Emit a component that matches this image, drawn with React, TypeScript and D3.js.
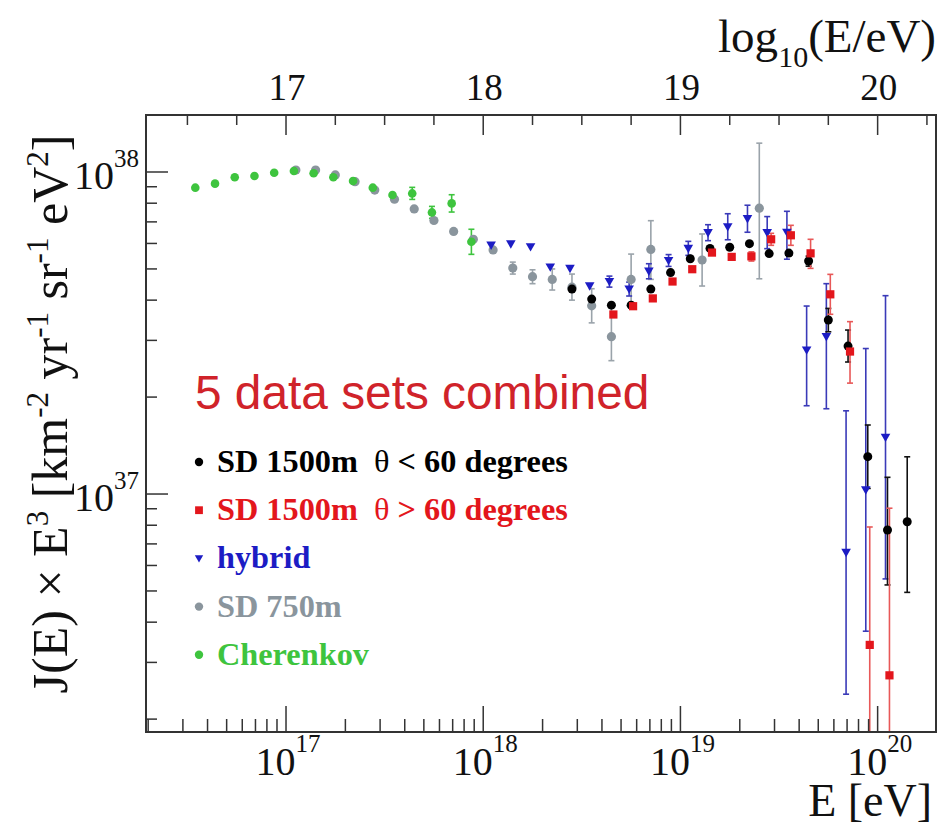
import React from 'react';
import * as d3 from 'd3';

const W = 942;
const H = 826;
const FRAME = { left: 146, right: 936, top: 115, bottom: 732 };

// axis domains (E in eV, J*E^3 in km^-2 yr^-1 sr^-1 eV^2)
const LOG_E_MIN = 16.29;
const LOG_E_MAX = 20.296;
const LOG_J_MIN = 36.261;
const LOG_J_MAX = 38.177;
const J_UNIT = 1e37;

const TOP_TICK_LABELS = [17, 18, 19, 20];
const BOTTOM_TICK_EXPS = [17, 18, 19, 20];
const LEFT_TICK_EXPS = [37, 38];

// SD 1500m, theta < 60 degrees
const sdVertLogE = [18.45, 18.55, 18.65, 18.75, 18.85, 18.95, 19.05, 19.15, 19.25, 19.35, 19.45, 19.55, 19.65, 19.75, 19.85, 19.95, 20.05, 20.15];
const sdVertJ = [4.33, 4.03, 3.86, 3.86, 4.33, 4.87, 5.38, 5.79, 5.84, 5.99, 5.58, 5.6, 5.29, 3.47, 2.88, 1.306, 0.773, 0.82];
const sdVertErrLo = [0.06, 0.06, 0.06, 0.06, 0.07, 0.08, 0.09, 0.1, 0.11, 0.13, 0.15, 0.17, 0.19, 0.28, 0.31, 0.265, 0.251, 0.325];
const sdVertErrHi = [0.06, 0.06, 0.06, 0.06, 0.07, 0.08, 0.09, 0.1, 0.11, 0.13, 0.15, 0.17, 0.19, 0.3, 0.35, 0.332, 0.354, 0.485];

// SD 1500m, theta > 60 degrees
const sdInclLogE = [18.66, 18.76, 18.86, 18.96, 19.06, 19.16, 19.26, 19.36, 19.46, 19.56, 19.66, 19.76, 19.86, 19.96, 20.06];
const sdInclJ = [3.61, 3.83, 4.05, 4.57, 4.99, 5.62, 5.45, 5.47, 6.18, 6.36, 5.59, 4.17, 2.77, 0.34, 0.2735];
const sdInclErrLo = [0.08, 0.09, 0.1, 0.11, 0.13, 0.15, 0.17, 0.18, 0.26, 0.44, 0.57, 0.555, 0.56, 0.34, 0.2735];
const sdInclErrHi = [0.08, 0.09, 0.1, 0.11, 0.13, 0.15, 0.17, 0.18, 0.27, 0.47, 0.59, 0.64, 0.66, 0.45, 0.63];

// hybrid
const hybridLogE = [18.04, 18.14, 18.24, 18.34, 18.44, 18.54, 18.64, 18.74, 18.84, 18.94, 19.04, 19.14, 19.24, 19.34, 19.44, 19.54, 19.64, 19.74, 19.84, 19.94, 20.04];
const hybridJ = [5.93, 5.98, 5.86, 5.07, 5.02, 4.43, 4.57, 4.33, 4.92, 5.31, 5.79, 6.48, 6.76, 7.16, 6.48, 6.5, 2.8, 3.08, 0.659, 1.03, 1.5];
const hybridErrLo = [0.15, 0.15, 0.15, 0.18, 0.18, 0.16, 0.18, 0.21, 0.26, 0.22, 0.28, 0.36, 0.6, 0.66, 0.7, 1.14, 0.92, 1.24, 0.42, 0.655, 0.955];
const hybridErrHi = [0.15, 0.15, 0.15, 0.19, 0.19, 0.17, 0.18, 0.22, 0.27, 0.23, 0.3, 0.38, 0.66, 0.725, 0.79, 1.05, 1.035, 1.42, 1.154, 1.8, 2.63];

// SD 750m
const sd750LogE = [17.05, 17.15, 17.25, 17.35, 17.45, 17.55, 17.65, 17.75, 17.85, 17.95, 18.05, 18.15, 18.25, 18.35, 18.45, 18.55, 18.65, 18.75, 18.85, 19.11, 19.4];
const sd750J = [10.14, 10.14, 9.79, 9.33, 8.79, 8.23, 7.68, 7.07, 6.54, 6.18, 5.73, 5.03, 4.73, 4.64, 4.39, 3.84, 3.08, 4.64, 5.75, 5.33, 7.72];
const sd750ErrLo = [0.08, 0.08, 0.08, 0.08, 0.08, 0.08, 0.08, 0.08, 0.08, 0.08, 0.12, 0.21, 0.23, 0.34, 0.39, 0.44, 0.485, 0.81, 1.11, 0.905, 3.06];
const sd750ErrHi = [0.08, 0.08, 0.08, 0.08, 0.08, 0.08, 0.08, 0.08, 0.08, 0.08, 0.12, 0.22, 0.24, 0.36, 0.43, 0.5, 0.74, 0.92, 1.31, 1.09, 4.57];

// Cherenkov
const cherLogE = [16.54, 16.64, 16.74, 16.84, 16.94, 17.04, 17.14, 17.24, 17.34, 17.44, 17.54, 17.64, 17.74, 17.84, 17.94];
const cherJ = [8.94, 9.2, 9.63, 9.72, 9.95, 10.07, 9.91, 9.63, 9.38, 8.94, 8.48, 8.58, 7.49, 7.99, 6.07];
const cherErrLo = [0.08, 0.08, 0.08, 0.08, 0.08, 0.08, 0.08, 0.1, 0.12, 0.15, 0.18, 0.36, 0.31, 0.48, 0.52];
const cherErrHi = [0.08, 0.08, 0.08, 0.08, 0.08, 0.08, 0.08, 0.1, 0.12, 0.15, 0.18, 0.38, 0.33, 0.51, 0.57];

type Marker = 'circle' | 'square' | 'tri';

const SERIES = [
  { name: 'SD 750m', logE: sd750LogE, J: sd750J, lo: sd750ErrLo, hi: sd750ErrHi, color: '#8a959d', bar: '#9aa3aa', marker: 'circle' as Marker, r: 4.6 },
  { name: 'Cherenkov', logE: cherLogE, J: cherJ, lo: cherErrLo, hi: cherErrHi, color: '#3ec43e', bar: '#3ec43e', marker: 'circle' as Marker, r: 4.3 },
  { name: 'hybrid', logE: hybridLogE, J: hybridJ, lo: hybridErrLo, hi: hybridErrHi, color: '#1c1cc4', bar: '#3a3ab8', marker: 'tri' as Marker, r: 4.8 },
  { name: 'SD 1500m  θ < 60 degrees', logE: sdVertLogE, J: sdVertJ, lo: sdVertErrLo, hi: sdVertErrHi, color: '#000000', bar: '#111111', marker: 'circle' as Marker, r: 4.5 },
  { name: 'SD 1500m  θ > 60 degrees', logE: sdInclLogE, J: sdInclJ, lo: sdInclErrLo, hi: sdInclErrHi, color: '#e3161c', bar: '#e85858', marker: 'square' as Marker, r: 4.1 },
];

const LEGEND = [
  { pre: 'SD 1500m  ', sym: 'θ', post: ' < 60 degrees', color: '#000000', marker: 'circle' as Marker },
  { pre: 'SD 1500m  ', sym: 'θ', post: ' > 60 degrees', color: '#e3161c', marker: 'square' as Marker },
  { pre: 'hybrid', sym: '', post: '', color: '#1c1cc4', marker: 'tri' as Marker },
  { pre: 'SD 750m', sym: '', post: '', color: '#8a959d', marker: 'circle' as Marker },
  { pre: 'Cherenkov', sym: '', post: '', color: '#3ec43e', marker: 'circle' as Marker },
];

const SERIF = "'Liberation Serif', 'Times New Roman', serif";
const SANS = "'Liberation Sans', Arial, sans-serif";

function MarkerShape({ type, cx, cy, r, color }: { type: Marker; cx: number; cy: number; r: number; color: string }) {
  if (type === 'square') return <rect x={cx - r} y={cy - r} width={2 * r} height={2 * r} fill={color} />;
  if (type === 'tri') {
    const p = `${cx - r},${cy - r * 0.75} ${cx + r},${cy - r * 0.75} ${cx},${cy + r}`;
    return <polygon points={p} fill={color} />;
  }
  return <circle cx={cx} cy={cy} r={r} fill={color} />;
}

export default function App() {
  const x = d3.scaleLog().domain([10 ** LOG_E_MIN, 10 ** LOG_E_MAX]).range([FRAME.left, FRAME.right]);
  const y = d3.scaleLog().domain([10 ** LOG_J_MIN, 10 ** LOG_J_MAX]).range([FRAME.bottom, FRAME.top]).clamp(true);

  const bottomTicks: { v: number; major: boolean }[] = [];
  for (let k = 16; k <= 20; k++) for (let m = 1; m <= 9; m++) {
    const v = m * 10 ** k;
    const px = x(v);
    if (v >= 10 ** LOG_E_MIN && v <= 10 ** LOG_E_MAX && px > FRAME.left + 2 && px < FRAME.right - 1) bottomTicks.push({ v, major: m === 1 });
  }
  const leftTicks: { v: number; major: boolean }[] = [];
  for (let k = 36; k <= 38; k++) for (let m = 1; m <= 9; m++) {
    const v = m * 10 ** k;
    const py = y(v);
    if (v >= 10 ** LOG_J_MIN && v <= 10 ** LOG_J_MAX && py < FRAME.bottom - 2) leftTicks.push({ v, major: m === 1 });
  }
  const topTicks: { t: number; major: boolean }[] = [];
  for (let t = 16.25; t <= 20.3; t += 0.25) {
    if (t > LOG_E_MIN && t < LOG_E_MAX) topTicks.push({ t, major: Math.abs(t - Math.round(t)) < 1e-6 });
  }

  const cap = 3;

  return (
    <svg width={W} height={H} style={{ position: 'absolute', left: 0, top: 0, background: '#fff' }}>
      <rect x={0} y={0} width={W} height={H} fill="#fff" />
      <g>
        {SERIES.map((s) => (
          <g key={s.name + 'err'} stroke={s.bar} strokeWidth={1.6} fill="none">
            {s.logE.map((le, i) => {
              const cx = x(10 ** le);
              const y1 = y((s.J[i] + s.hi[i]) * J_UNIT);
              const y0 = y((s.J[i] - s.lo[i]) * J_UNIT);
              const show = y0 - y1 > 2 * s.r + 1;
              if (!show) return null;
              return (
                <g key={i}>
                  <line x1={cx} x2={cx} y1={y1} y2={y0} />
                  <line x1={cx - cap} x2={cx + cap} y1={y1} y2={y1} />
                  {y0 < FRAME.bottom - 1 && <line x1={cx - cap} x2={cx + cap} y1={y0} y2={y0} />}
                </g>
              );
            })}
          </g>
        ))}
        {SERIES.map((s) => (
          <g key={s.name + 'pts'}>
            {s.logE.map((le, i) => (
              <MarkerShape key={i} type={s.marker} cx={x(10 ** le)} cy={y(s.J[i] * J_UNIT)} r={s.r} color={s.color} />
            ))}
          </g>
        ))}
      </g>

      <rect x={FRAME.left} y={FRAME.top} width={FRAME.right - FRAME.left} height={FRAME.bottom - FRAME.top} fill="none" stroke="#333" strokeWidth={2} />

      <g stroke="#333" strokeWidth={1.5}>
        {bottomTicks.map((t, i) => (
          <line key={i} x1={x(t.v)} x2={x(t.v)} y1={FRAME.bottom} y2={FRAME.bottom - (t.major ? 26 : 13)} />
        ))}
        {leftTicks.map((t, i) => (
          <line key={'l' + i} x1={FRAME.left} x2={FRAME.left + (t.major ? 22 : 11)} y1={y(t.v)} y2={y(t.v)} />
        ))}
        {topTicks.map((t, i) => (
          <line key={'t' + i} x1={x(10 ** t.t)} x2={x(10 ** t.t)} y1={FRAME.top} y2={FRAME.top + (t.major ? 20 : 10)} />
        ))}
      </g>

      <g fontFamily={SERIF} fill="#111">
        {BOTTOM_TICK_EXPS.map((e) => (
          <text key={e} x={x(10 ** e) + 2} y={775} fontSize={40} textAnchor="middle">
            10<tspan dy={-23} fontSize={25}>{e}</tspan>
          </text>
        ))}
        {LEFT_TICK_EXPS.map((e) => (
          <text key={e} x={139} y={y(10 ** e) + 17} fontSize={40} textAnchor="end">
            10<tspan dy={-22} fontSize={25}>{e}</tspan>
          </text>
        ))}
        {TOP_TICK_LABELS.map((e) => (
          <text key={e} x={x(10 ** e) + 1} y={100} fontSize={37} textAnchor="middle">{e}</text>
        ))}
        <text x={936} y={52} fontSize={47} textAnchor="end">
          log<tspan dy={15} fontSize={30}>10</tspan><tspan dy={-15}>(E/eV)</tspan>
        </text>
        <text x={932} y={816} fontSize={46} textAnchor="end">E [eV]</text>
        <text transform="translate(67,414) rotate(-90)" fontSize={50} textAnchor="middle">
          J(E) × E<tspan dy={-19} fontSize={31}>3</tspan>
          <tspan dy={19}> [km</tspan><tspan dy={-19} fontSize={31}>-2</tspan>
          <tspan dy={19}> yr</tspan><tspan dy={-19} fontSize={31}>-1</tspan>
          <tspan dy={19}> sr</tspan><tspan dy={-19} fontSize={31}>-1</tspan>
          <tspan dy={19}> eV</tspan><tspan dy={-19} fontSize={31}>2</tspan>
          <tspan dy={19}>]</tspan>
        </text>
      </g>

      <text x={195} y={409} fontFamily={SANS} fontSize={47.8} fill="#d0232a">5 data sets combined</text>

      <g fontFamily={SERIF} fontWeight="bold" fontSize={32.3}>
        {LEGEND.map((l, i) => {
          const cy = 462 + i * 48.2;
          return (
            <g key={l.pre + l.post}>
              <MarkerShape type={l.marker} cx={199} cy={cy} r={l.marker === 'square' ? 3.9 : 4.2} color={l.color} />
              <text x={217} y={cy + 10} fill={l.color} style={{ whiteSpace: 'pre' }}>
                {l.pre}
                {l.sym && <tspan fontWeight="normal">{l.sym}</tspan>}
                {l.post}
              </text>
            </g>
          );
        })}
      </g>
    </svg>
  );
}
